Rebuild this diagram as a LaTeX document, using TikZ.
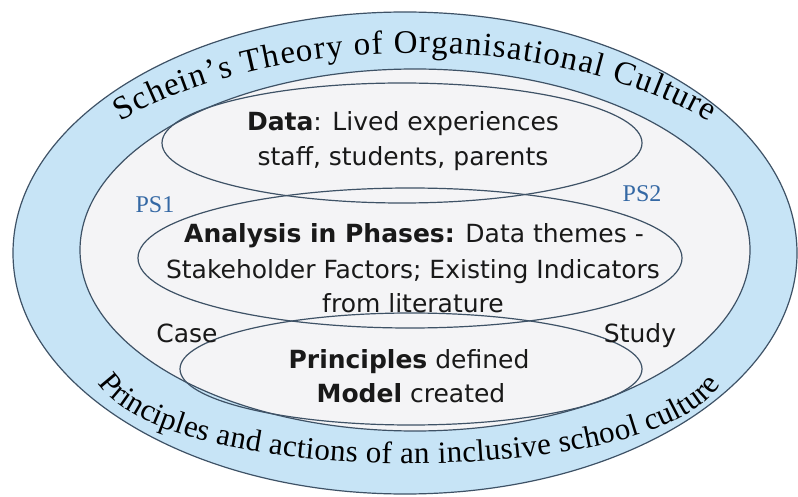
\documentclass[tikz,border=0pt]{standalone}
\usepackage{fontspec}
\setmainfont{DejaVu Sans}
\newfontfamily\arcserif{Liberation Serif}
\usetikzlibrary{decorations.text}
\definecolor{bandblue}{RGB}{199,228,246}
\definecolor{innerfill}{RGB}{244,244,246}
\definecolor{edgecol}{RGB}{62,82,102}
\definecolor{psblue}{RGB}{52,104,164}
\definecolor{txt}{RGB}{25,25,25}
\begin{document}
\begin{tikzpicture}[x=1pt,y=1pt,
  ring/.style={draw=edgecol, line width=1.2pt},
  body/.style={font=\fontsize{25}{30}\selectfont, text=txt, anchor=base, inner sep=0pt},
  pslabel/.style={font=\arcserif\fontsize{24}{28}\selectfont, text=psblue, anchor=base, inner sep=0pt},
  arctext/.style={decorate, decoration={text along path, text align=fit to path, text={#1}}}]
\useasboundingbox (0,0) rectangle (798,-497);
\fill[white] (0,0) rectangle (798,-497);
% outer band and inner field
\draw[ring, fill=bandblue] (405,-253) ellipse [x radius=392, y radius=241];
\draw[ring, fill=innerfill] (415,-250) ellipse [x radius=335, y radius=181];
% three stage ellipses
\draw[ring] (402,-143) ellipse [x radius=240, y radius=60];
\draw[ring] (410,-258) ellipse [x radius=272, y radius=70];
\draw[ring] (411,-369) ellipse [x radius=231, y radius=56];
% curved texts
\coordinate (topc) at (415,-252);
\coordinate (botstart) at (98,-383);
\coordinate (botend) at (720,-385);
\path[arctext={|\arcserif\fontsize{33}{33}\selectfont|Schein’s Theory of Organisational Culture}]
  (topc) ++(139:390 and 199) arc[start angle=139, end angle=41, x radius=390, y radius=199];
\path[arctext={|\arcserif\fontsize{31}{31}\selectfont|Principles and actions of an inclusive school culture}]
  (botstart) .. controls (165,-490) and (655,-490) .. (botend);
% labels
\node[body] (data1) at (403,-131) {\textbf{Data}: Lived experiences};
\node[body] (data2) at (403,-166) {staff, students, parents};
\node[body] (an1) at (414,-243) {\textbf{Analysis in Phases:} Data themes -};
\node[body] (an2) at (413,-278) {Stakeholder Factors; Existing Indicators};
\node[body] (an3) at (413,-312) {from literature};
\node[body] (pr1) at (409,-368) {\textbf{Principles} defined};
\node[body] (pr2) at (411,-402) {\textbf{Model} created};
\node[body] (case) at (187,-342) {Case};
\node[body] (study) at (640,-342) {Study};
\node[pslabel] (ps1) at (155,-213) {PS1};
\node[pslabel] (ps2) at (642,-202) {PS2};
\end{tikzpicture}
\end{document}
